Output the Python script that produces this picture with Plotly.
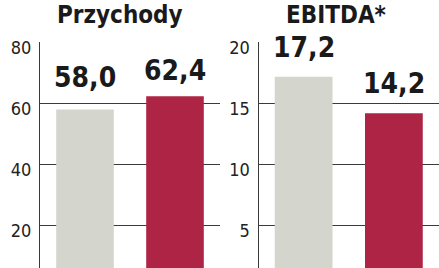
import plotly.graph_objects as go

# ---- data ----
categories = ["A", "B"]
przychody = [58.0, 62.4]
ebitda = [17.2, 14.2]
titles = ["Przychody", "EBITDA*"]
left_ticks = [20, 40, 60, 80]
right_ticks = [5, 10, 15, 20]

# ---- styles ----
bar_colors = ["#d4d5cc", "#ae2445"]
grid_color = "#3a3a3a"
font_main = "DejaVu Sans Condensed"
label_shift_left = [14, 7]
label_shift_right = [11, 11]

def fmt(v):
    return f"{v:.1f}".replace(".", ",")

fig = go.Figure()
fig.add_trace(go.Bar(x=categories, y=przychody, marker_color=bar_colors,
                     marker_line_width=0, width=0.64, xaxis="x", yaxis="y",
                     hoverinfo="skip"))
fig.add_trace(go.Bar(x=categories, y=ebitda, marker_color=bar_colors,
                     marker_line_width=0, width=0.64, xaxis="x2", yaxis="y2",
                     hoverinfo="skip"))

label_font = dict(family=font_main, size=28, color="#1a1a1a", weight="bold")
ann = []
for c, v, s in zip(categories, przychody, label_shift_left):
    ann.append(dict(x=c, y=v, xref="x", yref="y", text=fmt(v), showarrow=False,
                    yanchor="bottom", yshift=s, font=label_font))
for c, v, s in zip(categories, ebitda, label_shift_right):
    ann.append(dict(x=c, y=v, xref="x2", yref="y2", text=fmt(v), showarrow=False,
                    yanchor="bottom", yshift=s, font=label_font))
for t, xp in zip(titles, [120 / 439, 336 / 439]):
    ann.append(dict(x=xp, y=1 - 26 / 268, xref="paper", yref="paper", text=t,
                    showarrow=False, xanchor="center", yanchor="bottom",
                    font=dict(family=font_main, size=24, color="#1a1a1a", weight="bold")))

top = 1 - 37.7 / 268
yax_common = dict(showgrid=True, gridcolor=grid_color, gridwidth=1,
                  showline=True, linecolor=grid_color, linewidth=1,
                  zeroline=False, ticks="", domain=[0, top],
                  ticklabelshift=5, ticklabelstandoff=4,
                  tickfont=dict(family=font_main, size=18, color="#222222"))

fig.update_layout(
    width=439, height=268, margin=dict(l=0, r=0, t=0, b=0),
    paper_bgcolor="white", plot_bgcolor="white", showlegend=False,
    xaxis=dict(type="category", domain=[40 / 439, 220 / 439], range=[-0.5, 1.5],
               showticklabels=False, showgrid=False, zeroline=False, showline=False,
               anchor="y"),
    xaxis2=dict(type="category", domain=[258.5 / 439, 1.0], range=[-0.5, 1.5],
                showticklabels=False, showgrid=False, zeroline=False, showline=False,
                anchor="y2"),
    yaxis=dict(range=[6.21, 80.1], tickvals=left_ticks, anchor="x", **yax_common),
    yaxis2=dict(range=[1.56, 20.03], tickvals=right_ticks, anchor="x2", **yax_common),
    annotations=ann,
)

fig.write_html("out.html")
